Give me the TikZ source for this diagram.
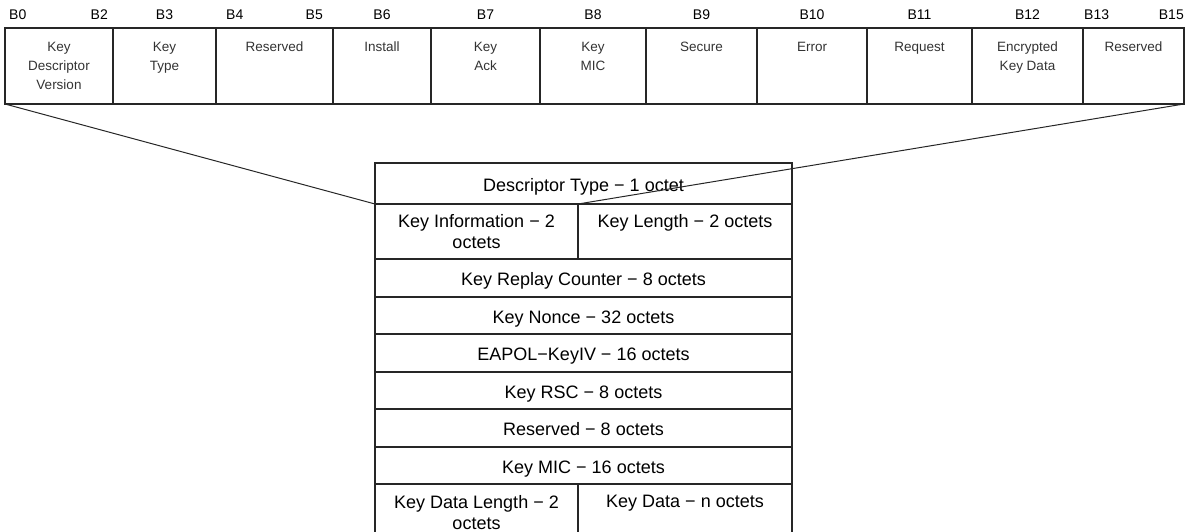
\documentclass[tikz,border=0pt]{standalone}
\usepackage{fontspec}
\setmainfont{Liberation Sans}

\begin{document}
\begin{tikzpicture}[x=1pt,y=-1pt,
  bitcell/.style={draw=black!85, line width=1.2pt, anchor=north west, minimum height=76pt, inner sep=0pt, outer sep=0pt},
  celltext/.style={anchor=north, align=center, inner sep=0pt, text=black!80, font=\fontsize{13.5}{19}\selectfont},
  bitnum/.style={anchor=base, inner sep=0pt, font=\fontsize{14}{16}\selectfont},
  field/.style={draw=black!85, line width=1.2pt, anchor=north west, inner sep=0pt, outer sep=0pt, minimum width=417pt, minimum height=38pt,
    text height=15pt, text depth=0pt, font=\fontsize{18}{22}\selectfont},
  fieldtext/.style={anchor=north, align=center, inner sep=0pt, font=\fontsize{18}{21.5}\selectfont},
  spoke/.style={black!85, line width=1pt}]
  \useasboundingbox (0,0) rectangle (1196,532);

  % key information bits
  \node[bitcell, minimum width=108pt] (kdv) at (5,28) {};
  \node[bitcell, minimum width=103pt] (ktype) at (kdv.north east) {};
  \node[bitcell, minimum width=117pt] (resa) at (ktype.north east) {};
  \node[bitcell, minimum width=98pt] (install) at (resa.north east) {};
  \node[bitcell, minimum width=109pt] (kack) at (install.north east) {};
  \node[bitcell, minimum width=106pt] (kmic) at (kack.north east) {};
  \node[bitcell, minimum width=111pt] (secure) at (kmic.north east) {};
  \node[bitcell, minimum width=110pt] (error) at (secure.north east) {};
  \node[bitcell, minimum width=105pt] (request) at (error.north east) {};
  \node[bitcell, minimum width=111pt] (ekd) at (request.north east) {};
  \node[bitcell, minimum width=101pt] (resb) at (ekd.north east) {};

  \node[celltext] (kdv-t) at ([yshift=-14pt]kdv.north) {Key\\Descriptor\\Version};
  \node[celltext] (ktype-t) at ([yshift=-14pt]ktype.north) {Key\\Type};
  \node[celltext] (resa-t) at ([yshift=-14pt]resa.north) {Reserved};
  \node[celltext] (install-t) at ([yshift=-14pt]install.north) {Install};
  \node[celltext] (kack-t) at ([yshift=-14pt]kack.north) {Key\\Ack};
  \node[celltext] (kmic-t) at ([yshift=-14pt]kmic.north) {Key\\MIC};
  \node[celltext] (secure-t) at ([yshift=-14pt]secure.north) {Secure};
  \node[celltext] (error-t) at ([yshift=-14pt]error.north) {Error};
  \node[celltext] (request-t) at ([yshift=-14pt]request.north) {Request};
  \node[celltext] (ekd-t) at ([yshift=-14pt]ekd.north) {Encrypted\\Key Data};
  \node[celltext] (resb-t) at ([yshift=-14pt]resb.north) {Reserved};

  % bit numbers
  \node[bitnum, anchor=base west] (b0) at (9,20) {B0};
  \node[bitnum, anchor=base east] (b2) at (108,20) {B2};
  \node[bitnum] (b3) at (ktype.north |- 0,20) {B3};
  \node[bitnum, anchor=base west] (b4) at (226,20) {B4};
  \node[bitnum, anchor=base east] (b5) at (323,20) {B5};
  \node[bitnum] (b6) at (install.north |- 0,20) {B6};
  \node[bitnum] (b7) at (kack.north |- 0,20) {B7};
  \node[bitnum] (b8) at (kmic.north |- 0,20) {B8};
  \node[bitnum] (b9) at (secure.north |- 0,20) {B9};
  \node[bitnum] (b10) at (error.north |- 0,20) {B10};
  \node[bitnum] (b11) at (request.north |- 0,20) {B11};
  \node[bitnum] (b12) at (ekd.north |- 0,20) {B12};
  \node[bitnum, anchor=base west] (b13) at (1084,20) {B13};
  \node[bitnum, anchor=base east] (b15) at (1184,20) {B15};

  % EAPOL-Key frame
  \node[field, minimum height=41pt] (dtype) at (375,163) {Descriptor Type − 1 octet};
  \node[field, minimum width=203pt, minimum height=55pt] (kinfo) at (dtype.south west) {};
  \node[field, minimum width=214pt, minimum height=55pt] (klen) at (kinfo.north east) {};
  \node[fieldtext] (kinfo-t) at ([yshift=-10pt]kinfo.north) {Key Information − 2\\octets};
  \node[fieldtext] (klen-t) at ([yshift=-10pt]klen.north) {Key Length − 2 octets};
  \node[field] (replay) at (kinfo.south west) {Key Replay Counter − 8 octets};
  \node[field, minimum height=37pt] (nonce) at (replay.south west) {Key Nonce − 32 octets};
  \node[field] (keyiv) at (nonce.south west) {EAPOL−KeyIV − 16 octets};
  \node[field, minimum height=37pt] (rsc) at (keyiv.south west) {Key RSC − 8 octets};
  \node[field] (resrow) at (rsc.south west) {Reserved − 8 octets};
  \node[field, minimum height=37pt] (mic) at (resrow.south west) {Key MIC − 16 octets};
  \node[field, minimum width=203pt, minimum height=52pt] (kdlen) at (mic.south west) {};
  \node[field, minimum width=214pt, minimum height=52pt] (kdata) at (kdlen.north east) {};
  \node[fieldtext] (kdlen-t) at ([yshift=-11pt]kdlen.north) {Key Data Length − 2\\octets};
  \node[fieldtext] (kdata-t) at ([yshift=-11pt]kdata.north) {Key Data − n octets};

  % zoom lines
  \draw[spoke] (kdv.south west) -- (dtype.south west);
  \draw[spoke] (resb.south east) -- (klen.north west);
\end{tikzpicture}
\end{document}
